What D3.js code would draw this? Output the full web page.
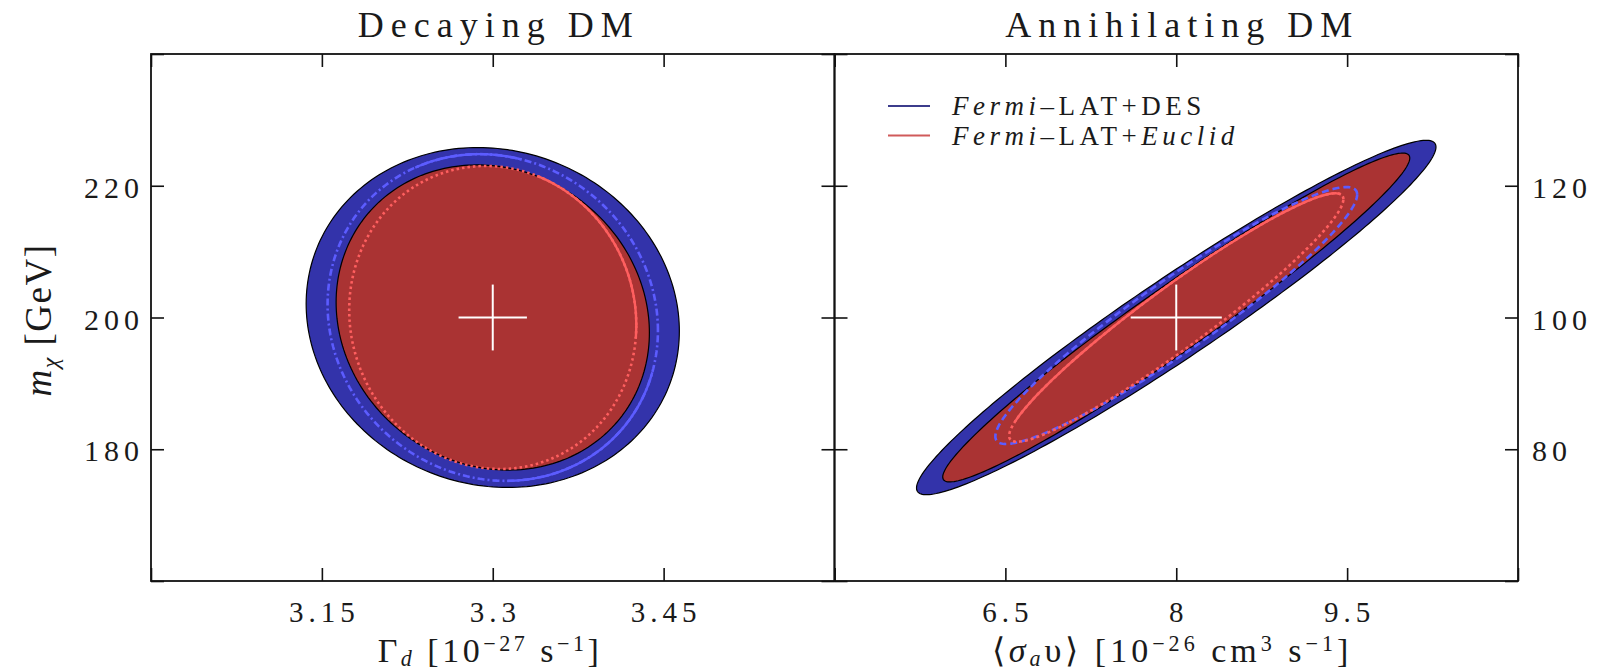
<!DOCTYPE html>
<html><head><meta charset="utf-8">
<script src="https://cdn.jsdelivr.net/npm/d3@7"></script>
<style>body{margin:0;background:#fff}</style></head>
<body><svg id="c" width="1603" height="671"></svg>
<script>
// ---------------- data ----------------
const panelTitles = ["Decaying DM", "Annihilating DM"];
const leftXDomain = [3.0, 3.6];
const rightXDomain = [5, 11];
const leftYDomain = [160, 240];
const rightYDomain = [60, 140];
const leftXTicks = [3.0, 3.15, 3.3, 3.45, 3.6];
const leftXTickLabels = ["", "3.15", "3.3", "3.45", ""];
const rightXTicks = [5, 6.5, 8, 9.5, 11];
const rightXTickLabels = ["", "6.5", "8", "9.5", ""];
const leftYTicks = [160, 180, 200, 220, 240];
const leftYTickLabels = ["", "180", "200", "220", ""];
const rightYTicks = [60, 80, 100, 120, 140];
const rightYTickLabels = ["", "80", "100", "120", ""];
const legendLabels = ["DES", "Euclid"];

// fiducial points [x, y] and cross half-lengths [dx, dy]
const leftFiducial = [3.3, 200], leftCross = [0.03, 5];
const rightFiducial = [8, 100], rightCross = [0.4, 5];

// contours: [centre x, centre y, half-width x, half-width y, correlation]
const leftDesFill    = [3.3, 200, 0.1638, 25.8, -0.08];
const leftEuclidFill = [3.3, 200, 0.1375, 23.16, -0.10];
const leftDesLine    = [3.3, 200, 0.145, 24.8, -0.08];
const leftEuclidLine = [3.3, 200, 0.126, 23.0, -0.05];
const rightDesFill    = [8.0, 100, 2.28, 26.9, 0.962];
const rightEuclidFill = [8.0, 100, 2.05, 24.96, 0.970];
const rightDesLine    = [8.0, 100.3, 1.588, 19.5, 0.941];
const rightEuclidLine = [8.0, 100, 1.467, 18.86, 0.952];
// parts (parameter angle ranges, degrees) of the line contours drawn solid
const leftDesSolidArcs = [[80, 118], [-85, -15]];
const leftEuclidSolidArcs = [[-5, 72]];
const rightDesSolidArcs = [];
const rightEuclidSolidArcs = [[10, 165]];

// ---------------- style / layout ----------------
const C = {
  blueFill: "#3333aa", redFill: "#aa3333",
  blueLine: "#5c5cff", redLine: "#ff5f5f",
  blueLeg: "#3c3c8c", redLeg: "#d05a5a", text: "#1a1a1a"
};
const plotTop = 54, plotBottom = 581;
const panels = [
  {x0: 151, x1: 834.5, xd: leftXDomain, yd: leftYDomain, xt: leftXTicks, xl: leftXTickLabels,
   yt: leftYTicks, yl: leftYTickLabels, ySide: "left",
   fills: [leftDesFill, leftEuclidFill],
   lines: [{c: leftDesLine, col: C.blueLine, dash: "7,3,2,3", arcs: leftDesSolidArcs},
           {c: leftEuclidLine, col: C.redLine, dash: "2.5,3", arcs: leftEuclidSolidArcs}],
   fid: leftFiducial, cross: leftCross},
  {x0: 834.5, x1: 1518, xd: rightXDomain, yd: rightYDomain, xt: rightXTicks, xl: rightXTickLabels,
   yt: rightYTicks, yl: rightYTickLabels, ySide: "right",
   fills: [rightDesFill, rightEuclidFill],
   lines: [{c: rightDesLine, col: C.blueLine, dash: "7,4", arcs: rightDesSolidArcs},
           {c: rightEuclidLine, col: C.redLine, dash: "3,3", arcs: rightEuclidSolidArcs}],
   fid: rightFiducial, cross: rightCross}
];

const svg = d3.select("#c");
svg.append("rect").attr("width", 1603).attr("height", 671).attr("fill", "#fff");
const serif = "'Liberation Serif', 'Times New Roman', serif";

function ellipsePts(c, t0 = 0, t1 = 360, n = 240) {
  const [cx, cy, dx, dy, rho] = c;
  const phi = Math.acos(rho);
  return d3.range(n + 1).map(i => {
    const t = (t0 + (t1 - t0) * i / n) * Math.PI / 180;
    return [cx + dx * Math.cos(t), cy + dy * Math.cos(t - phi)];
  });
}

function richText(sel, segs, fs, subShift = 0.2, supShift = 0.42) {
  let shift = 0;
  segs.forEach(s => {
    const target = s.sub ? fs * subShift : s.sup ? -fs * supShift : 0;
    sel.append("tspan")
      .attr("dy", target - shift)
      .attr("font-size", (s.sub || s.sup) ? fs * 0.65 : fs)
      .attr("font-style", s.it ? "italic" : null)
      .text(s.t);
    shift = target;
  });
  return sel;
}

panels.forEach((p, pi) => {
  const x = d3.scaleLinear().domain(p.xd).range([p.x0, p.x1]);
  const y = d3.scaleLinear().domain(p.yd).range([plotBottom, plotTop]);
  const g = svg.append("g");
  const line = d3.line().x(d => x(d[0])).y(d => y(d[1]));

  // filled contours
  p.fills.forEach((c, i) => {
    g.append("path").attr("d", line(ellipsePts(c)) + "Z")
      .attr("fill", i === 0 ? C.blueFill : C.redFill)
      .attr("stroke", "#000").attr("stroke-width", 1.2);
  });
  // line contours
  p.lines.forEach(l => {
    g.append("path").attr("d", line(ellipsePts(l.c)))
      .attr("fill", "none").attr("stroke", l.col).attr("stroke-width", 2.6)
      .attr("stroke-dasharray", l.dash);
    l.arcs.forEach(a => {
      g.append("path").attr("d", line(ellipsePts(l.c, a[0], a[1], 80)))
        .attr("fill", "none").attr("stroke", l.col).attr("stroke-width", 2.4);
    });
  });
  // fiducial cross
  const [fx, fy] = p.fid, [hx, hy] = p.cross;
  g.append("line").attr("x1", x(fx - hx)).attr("x2", x(fx + hx)).attr("y1", y(fy)).attr("y2", y(fy))
    .attr("stroke", "#fff").attr("stroke-width", 2);
  g.append("line").attr("x1", x(fx)).attr("x2", x(fx)).attr("y1", y(fy - hy)).attr("y2", y(fy + hy))
    .attr("stroke", "#fff").attr("stroke-width", 2);

  // axes (inward ticks)
  const tk = 13;
  const axes = [
    [d3.axisBottom(x).tickValues(p.xt), `translate(0,${plotBottom})`],
    [d3.axisTop(x).tickValues(p.xt), `translate(0,${plotTop})`],
    [d3.axisLeft(y).tickValues(p.yt), `translate(${p.x0},0)`],
    [d3.axisRight(y).tickValues(p.yt), `translate(${p.x1},0)`]
  ];
  axes.forEach(([ax, tr]) => {
    const a = g.append("g").attr("transform", tr)
      .call(ax.tickSize(-tk).tickFormat(""));
    a.select(".domain").remove();
    a.selectAll("line").attr("stroke", "#111").attr("stroke-width", 1.6);
  });
  g.append("rect").attr("x", p.x0).attr("y", plotTop).attr("width", p.x1 - p.x0).attr("height", plotBottom - plotTop)
    .attr("fill", "none").attr("stroke", "#111").attr("stroke-width", 1.8);

  // tick labels
  const ls = 5;
  p.xt.forEach((v, i) => {
    if (!p.xl[i]) return;
    g.append("text").attr("x", x(v) + ls / 2).attr("y", 622).attr("text-anchor", "middle")
      .attr("font-family", serif).attr("font-size", 29).attr("letter-spacing", ls)
      .attr("fill", C.text).text(p.xl[i]);
  });
  p.yt.forEach((v, i) => {
    if (!p.yl[i]) return;
    const t = g.append("text").attr("y", y(v) + 12)
      .attr("font-family", serif).attr("font-size", 30).attr("letter-spacing", ls)
      .attr("fill", C.text).text(p.yl[i]);
    if (p.ySide === "left") t.attr("x", p.x0 - 12 + ls).attr("text-anchor", "end");
    else t.attr("x", p.x1 + 14).attr("text-anchor", "start");
  });

  // panel title
  g.append("text").attr("x", (p.x0 + p.x1) / 2 + 6).attr("y", 37).attr("text-anchor", "middle")
    .attr("font-family", serif).attr("font-size", 36).attr("letter-spacing", 7)
    .attr("fill", C.text).text(panelTitles[pi]);
});

// axis titles
const fsT = 34;
const xt1 = svg.append("text").attr("x", 490).attr("y", 662).attr("text-anchor", "middle")
  .attr("font-family", serif).attr("letter-spacing", 3.5).attr("fill", C.text);
richText(xt1, [{t: "Γ"}, {t: "d", it: true, sub: true}, {t: " [10"}, {t: "−27", sup: true},
  {t: " s"}, {t: "−1", sup: true}, {t: "]"}], fsT, 0.12, 0.32);
const xt2 = svg.append("text").attr("x", 1172).attr("y", 662).attr("text-anchor", "middle")
  .attr("font-family", serif).attr("letter-spacing", 4).attr("fill", C.text);
richText(xt2, [{t: "⟨"}, {t: "σ", it: true}, {t: "a", it: true, sub: true}, {t: "υ⟩ [10"},
  {t: "−26", sup: true}, {t: " cm"}, {t: "3", sup: true}, {t: " s"}, {t: "−1", sup: true}, {t: "]"}], fsT, 0.12, 0.32);
const yt1 = svg.append("text").attr("transform", "translate(51,320) rotate(-90)").attr("text-anchor", "middle")
  .attr("font-family", serif).attr("letter-spacing", 1.5).attr("fill", C.text);
richText(yt1, [{t: "m", it: true}, {t: "χ", it: true, sub: true}, {t: " [GeV]"}], 37);

// legend
const legCols = [C.blueLeg, C.redLeg];
legendLabels.forEach((lab, i) => {
  const ly = 106 + i * 29.5;
  svg.append("line").attr("x1", 888).attr("x2", 930).attr("y1", ly).attr("y2", ly)
    .attr("stroke", legCols[i]).attr("stroke-width", 2);
  const t = svg.append("text").attr("x", 952).attr("y", ly + 9)
    .attr("font-family", serif).attr("letter-spacing", 4.5).attr("fill", C.text);
  const segs = [{t: "Fermi", it: true}, {t: "–LAT+"}];
  segs.push(i === 0 ? {t: lab} : {t: lab, it: true});
  richText(t, segs, 27);
});
</script>
</body></html>
